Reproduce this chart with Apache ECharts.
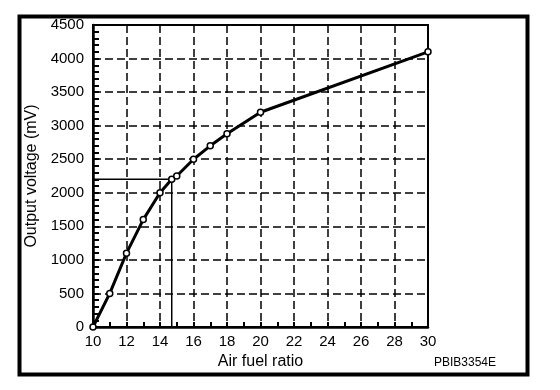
<!DOCTYPE html>
<html>
<head>
<meta charset="utf-8">
<script src="https://cdn.jsdelivr.net/npm/echarts@6/dist/echarts.min.js"></script>
<style>
html,body{margin:0;padding:0;background:#fff;}
#c{width:560px;height:390px;}
</style>
</head>
<body>
<div id="c"></div>
<script>
// Data
const airFuelRatio = [10, 11, 12, 13, 14, 14.7, 15, 16, 17, 18, 20, 30];
const outputVoltage = [0, 500, 1100, 1600, 2000, 2200, 2250, 2500, 2700, 2880, 3200, 4100];
// Reading guide (stoichiometric example)
const guideRatio = [10, 14.7, 14.7];
const guideVoltage = [2200, 2200, 0];
const xTicks = [10, 12, 14, 16, 18, 20, 22, 24, 26, 28, 30];
const yTicks = [0, 500, 1000, 1500, 2000, 2500, 3000, 3500, 4000, 4500];
const xTitle = 'Air fuel ratio';
const yTitle = 'Output voltage (mV)';
const figureCode = 'PBIB3354E';

const FONT = '"Liberation Sans", Arial, Helvetica, sans-serif';
const chart = echarts.init(document.getElementById('c'), null, {renderer: 'canvas'});

const curve = airFuelRatio.map((x, i) => [x, outputVoltage[i]]);
const guide = guideRatio.map((x, i) => [x, guideVoltage[i]]);

chart.setOption({
  animation: false,
  backgroundColor: '#fff',
  grid: {left: 93, right: 132, top: 25, bottom: 63, show: true, borderColor: '#000', borderWidth: 2, backgroundColor: 'transparent'},
  xAxis: {
    type: 'value',
    min: xTicks[0], max: xTicks[xTicks.length - 1], interval: 2,
    name: xTitle, nameLocation: 'middle', nameGap: 22,
    nameTextStyle: {fontFamily: FONT, fontSize: 16, color: '#000'},
    axisLine: {show: true, lineStyle: {color: '#000', width: 2.5}},
    axisTick: {show: true, inside: true, length: 5, lineStyle: {color: '#000', width: 2}},
    minorTick: {show: true, splitNumber: 2, length: 5, lineStyle: {color: '#000', width: 2}},
    axisLabel: {fontFamily: FONT, fontSize: 15, color: '#000', margin: 7, formatter: v => String(v)},
    splitLine: {show: true, lineStyle: {color: '#000', width: 1.5, type: [8, 4]}}
  },
  yAxis: {
    type: 'value',
    min: yTicks[0], max: yTicks[yTicks.length - 1], interval: 500,
    name: yTitle, nameLocation: 'middle', nameGap: 43,
    nameTextStyle: {fontFamily: FONT, fontSize: 16, color: '#000'},
    axisLine: {show: true, lineStyle: {color: '#000', width: 2.5}},
    axisTick: {show: true, inside: true, length: 6, lineStyle: {color: '#000', width: 2}},
    minorTick: {show: true, splitNumber: 5, length: 6, lineStyle: {color: '#000', width: 2}},
    axisLabel: {fontFamily: FONT, fontSize: 15, color: '#000', margin: 9, formatter: v => String(v)},
    splitLine: {show: true, lineStyle: {color: '#000', width: 1.5, type: [8, 4]}}
  },
  series: [
    {
      type: 'line',
      data: guide,
      symbol: 'none',
      lineStyle: {color: '#000', width: 1.5},
      z: 3
    },
    {
      type: 'line',
      data: curve,
      symbol: 'circle',
      symbolSize: 6,
      itemStyle: {color: '#fff', borderColor: '#000', borderWidth: 1.5},
      lineStyle: {color: '#000', width: 3},
      z: 4
    }
  ],
  graphic: [
    {
      type: 'rect', left: 17, top: 14, silent: true,
      shape: {x: 0, y: 0, width: 508, height: 358},
      style: {fill: 'none', stroke: '#000', lineWidth: 4}
    },
    {
      type: 'text', left: 434, top: 357,
      style: {text: figureCode, font: '12px ' + FONT, fill: '#000'}
    }
  ]
});
</script>
</body>
</html>
